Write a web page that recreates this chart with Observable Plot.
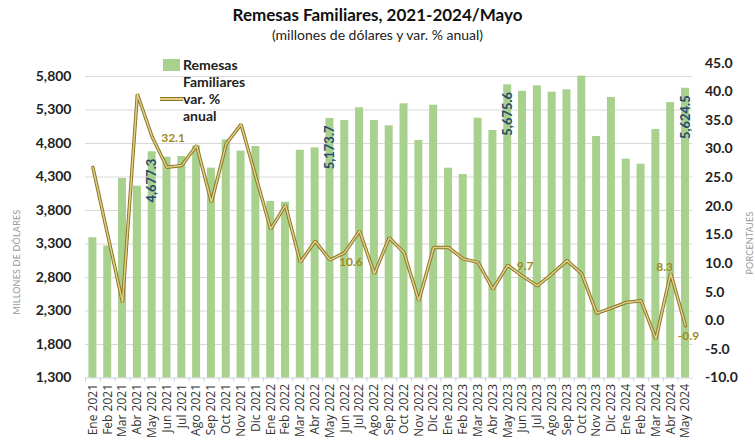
<!DOCTYPE html>
<html>
<head>
<meta charset="utf-8">
<script src="https://cdn.jsdelivr.net/npm/d3@7"></script>
<script src="https://cdn.jsdelivr.net/npm/@observablehq/plot@0.6"></script>
<style>
  html, body { margin: 0; padding: 0; background: #fff; }
  #wrap { position: relative; width: 755px; height: 444px; font-family: Lato, "Open Sans", sans-serif; }
  #wrap svg { position: absolute; left: 0; top: 0; }
  .abs { position: absolute; white-space: nowrap; }
</style>
</head>
<body>
<div id="wrap">
  <div class="abs" id="title" style="left:0; width:755px; top:4px; text-align:center; font-weight:700; font-size:17px; color:#111;">Remesas Familiares, 2021-2024/Mayo</div>
  <div class="abs" id="subtitle" style="left:0; width:755px; top:26px; text-align:center; font-size:14px; color:#222;">(millones de dólares y var. % anual)</div>
</div>
<script>
const months = [
  "Ene 2021","Feb 2021","Mar 2021","Abr 2021","May 2021","Jun 2021","Jul 2021","Ago 2021","Sep 2021","Oct 2021","Nov 2021","Dic 2021",
  "Ene 2022","Feb 2022","Mar 2022","Abr 2022","May 2022","Jun 2022","Jul 2022","Ago 2022","Sep 2022","Oct 2022","Nov 2022","Dic 2022",
  "Ene 2023","Feb 2023","Mar 2023","Abr 2023","May 2023","Jun 2023","Jul 2023","Ago 2023","Sep 2023","Oct 2023","Nov 2023","Dic 2023",
  "Ene 2024","Feb 2024","Mar 2024","Abr 2024","May 2024"
];
const remesas = [
  3393, 3270, 4278, 4163, 4677.3, 4596, 4606, 4760, 4432, 4855, 4686, 4755,
  3934, 3924, 4700, 4735, 5173.7, 5143, 5333, 5143, 5064, 5392, 4845, 5372,
  4432, 4337, 5178, 4994, 5675.6, 5578, 5661, 5566, 5601, 5805, 4904, 5487,
  4566, 4491, 5009, 5412, 5624.5
];
const variacion = [
  26.8, 15.0, 3.2, 39.6, 32.1, 26.8, 27.1, 30.6, 20.7, 30.9, 34.3, 25.1,
  16.0, 20.2, 10.2, 13.9, 10.6, 11.9, 15.7, 8.2, 14.5, 11.9, 3.5, 12.8,
  12.8, 10.8, 10.2, 5.5, 9.7, 7.8, 6.1, 8.2, 10.5, 8.2, 1.3, 2.2,
  3.2, 3.5, -3.2, 8.3, -0.9
];
const barLabelMonths = ["May 2021", "May 2022", "May 2023", "May 2024"];
const barLabelTexts = ["4,677.3", "5,173.7", "5,675.6", "5,624.5"];
const lineLabelMonths = ["May 2021", "May 2022", "May 2023", "Abr 2024", "May 2024"];
const lineLabelTexts = ["32.1", "10.6", "9.7", "8.3", "-0.9"];
const leftTicks = [1300, 1800, 2300, 2800, 3300, 3800, 4300, 4800, 5300, 5800];
const rightTicks = [-10, -5, 0, 5, 10, 15, 20, 25, 30, 35, 40, 45];
const leftDomain = [1300, 6000];
const rightDomain = [-10, 45];

// map percentage onto the left (millions) scale
const k = (leftDomain[1] - leftDomain[0]) / (rightDomain[1] - rightDomain[0]);
const toLeft = p => leftDomain[0] + (p - rightDomain[0]) * k;
const toRight = v => Math.round(((v - leftDomain[0]) / k + rightDomain[0]) * 10) / 10;

const data = months.map((m, i) => ({m, r: remesas[i], p: variacion[i], pl: toLeft(variacion[i])}));
const barLabels = barLabelMonths.map((m, i) => ({m, r: remesas[months.indexOf(m)], t: barLabelTexts[i]}));
const lineLabels = lineLabelMonths.map((m, i) => ({m, pl: toLeft(variacion[months.indexOf(m)]), t: lineLabelTexts[i], i}));

const W = 755, H = 444;
const mL = 85, mR = 62.6, mT = 62.6, mB = 66.5;
const step = (W - mL - mR) / months.length;
const lineLblStyle = [
  {dx: 9, dy: 1, anchor: "start"},
  {dx: 9, dy: 2, anchor: "start"},
  {dx: 9, dy: 1, anchor: "start"},
  {dx: -6, dy: -6, anchor: "middle"},
  {dx: 3, dy: 10, anchor: "middle"}
];
const outerLine = "#8a7526", innerLine = "#e2cf88";

const chart = Plot.plot({
  width: W, height: H,
  marginLeft: mL, marginRight: mR, marginTop: mT, marginBottom: mB,
  style: {fontFamily: "Lato, 'Open Sans', sans-serif", background: "transparent", overflow: "visible"},
  x: {type: "band", domain: months, paddingInner: 0.46, paddingOuter: 0.23, label: null},
  y: {domain: leftDomain, label: null},
  marks: [
    Plot.gridY(leftTicks.slice(1), {stroke: "#d9d9d9", strokeOpacity: 1}),
    Plot.ruleY([leftDomain[0]], {stroke: "#d0d6e0"}),
    Plot.barY(data, {x: "m", y1: leftDomain[0], y2: "r", fill: "#a9d18e"}),
    Plot.axisX({tickSize: 4, tickFormat: () => "", stroke: "#c6d0e0", dx: -step / 2}),
    Plot.axisX({tickSize: 0, tickPadding: 6, tickRotate: -90, fontSize: 12, fill: "#333", fontFamily: "'Open Sans', sans-serif"}),
    Plot.axisY(leftTicks, {anchor: "left", tickSize: 0, tickPadding: 14, tickFormat: d3.format(","), fontSize: 14, fontWeight: "bold", fill: "#222"}),
    Plot.axisY(rightTicks.map(toLeft), {anchor: "right", tickSize: 0, tickPadding: 12, tickFormat: d => toRight(d).toFixed(1), fontSize: 14, fontWeight: "bold", fill: "#222"}),
    Plot.line(data, {x: "m", y: "pl", stroke: outerLine, strokeWidth: 3.4, strokeLinejoin: "miter"}),
    Plot.line(data, {x: "m", y: "pl", stroke: innerLine, strokeWidth: 1.5, strokeLinejoin: "miter"}),
    Plot.text(barLabels, {x: "m", y: "r", text: "t", rotate: -90, textAnchor: "end", dy: 7, fontSize: 13, fontWeight: "bold", fill: "#25496e"}),
    ...lineLabels.map(d => Plot.text([d], {x: "m", y: "pl", text: "t", textAnchor: lineLblStyle[d.i].anchor, dx: lineLblStyle[d.i].dx, dy: lineLblStyle[d.i].dy, fontSize: 12, fontWeight: "bold", fill: "#a08a1c"}))
  ]
});
const wrap = document.getElementById("wrap");
wrap.insertBefore(chart, wrap.firstChild);

// Legend and axis titles
function addDiv(html, style) {
  const d = document.createElement("div");
  d.className = "abs";
  d.innerHTML = html;
  d.setAttribute("style", style);
  wrap.appendChild(d);
  return d;
}
addDiv("", "left:163px; top:59px; width:17px; height:12px; background:#a9d18e;");
addDiv("Remesas<br>Familiares", "left:183px; top:56px; font-size:14px; font-weight:700; line-height:17px; color:#222;");
addDiv("", `left:160px; top:97.2px; width:23px; height:3.4px; background:${outerLine};`);
addDiv("", `left:160px; top:98.1px; width:23px; height:1.5px; background:${innerLine};`);
addDiv("var. %<br>anual", "left:183px; top:90px; font-size:14px; font-weight:700; line-height:17px; color:#222;");
addDiv("MILLONES DE DÓLARES", "left:16px; top:262px; font-size:9px; color:#9a9a9a; transform:translate(-50%,-50%) rotate(-90deg); letter-spacing:0.2px;");
addDiv("PORCENTAJES", "left:749px; top:243px; font-size:9px; color:#9a9a9a; transform:translate(-50%,-50%) rotate(-90deg); letter-spacing:0.2px;");
</script>
</body>
</html>
